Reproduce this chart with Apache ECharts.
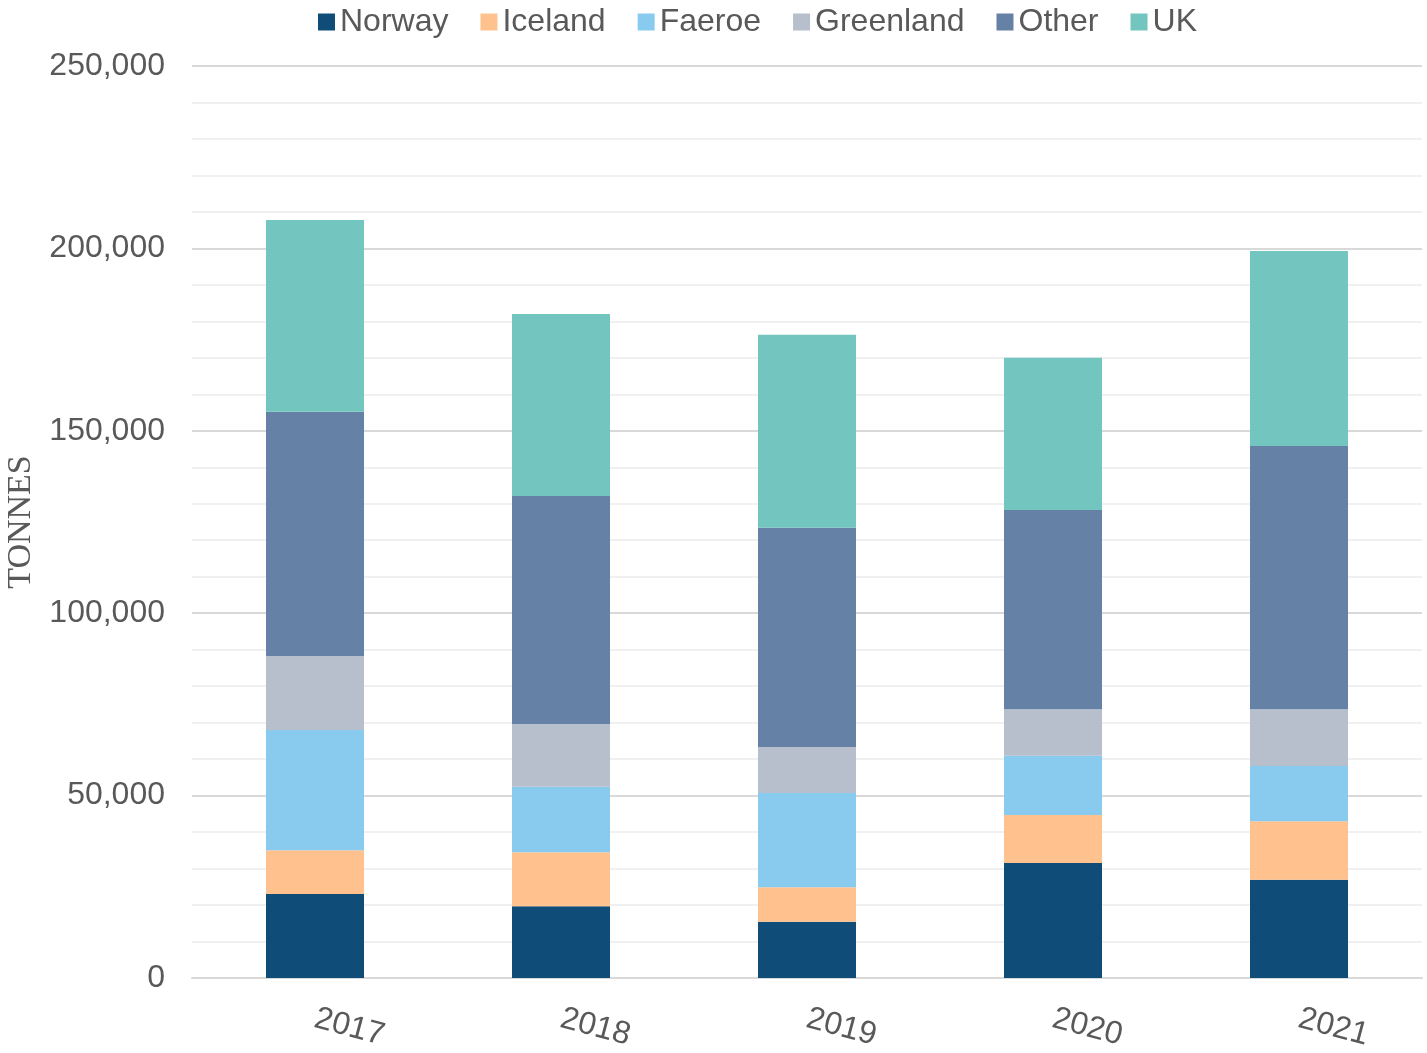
<!DOCTYPE html>
<html><head><meta charset="utf-8">
<script src="https://cdn.jsdelivr.net/npm/echarts@6/dist/echarts.min.js"></script>
<style>html,body{margin:0;padding:0;background:#fff}#c{width:1427px;height:1053px}</style>
</head><body><div id="c"></div>
<script>
const years = ['2017','2018','2019','2020','2021'];
const norway    = [23000, 19700, 15400, 31500, 26900];
const iceland   = [12000, 14800,  9500, 13200, 16100];
const faeroe    = [33000, 17900, 25800, 16200, 15100];
const greenland = [20300, 17200, 12600, 12800, 15600];
const other     = [66900, 62500, 60100, 54600, 72100];
const uk        = [52600, 49900, 52900, 41700, 53500];

const seriesDefs = [
  ['Norway', norway, '#0f4c78'],
  ['Iceland', iceland, '#ffc28f'],
  ['Faeroe', faeroe, '#89caef'],
  ['Greenland', greenland, '#b6bfcb'],
  ['Other', other, '#6581a5'],
  ['UK', uk, '#72c6bf']
];
const txt = '#595959';
const chart = echarts.init(document.getElementById('c'));
chart.setOption({
  animation: false,
  legend: {
    top: 1, left: 313,
    itemWidth: 17, itemHeight: 17, itemGap: 32,
    icon: 'rect',
    textStyle: {fontFamily: 'Liberation Sans', fontSize: 32, color: txt}
  },
  grid: {left: 192, right: 5, top: 66, bottom: 75, containLabel: false, outerBoundsMode: 'none'},
  xAxis: {
    type: 'category', data: years,
    axisLine: {lineStyle: {color: '#d9d9d9', width: 2}},
    axisTick: {show: false},
    axisLabel: {rotate: -15, margin: 40, fontFamily: 'Liberation Sans', fontSize: 32, color: txt}
  },
  yAxis: {
    type: 'value', min: 0, max: 250000, interval: 50000,
    name: 'TONNES', nameLocation: 'middle', nameGap: 149,
    nameTextStyle: {fontFamily: 'Liberation Serif', fontSize: 34, color: txt},
    axisLine: {show: false}, axisTick: {show: false},
    axisLabel: {margin: 27, fontFamily: 'Liberation Sans', fontSize: 32, color: txt,
      formatter: v => v.toLocaleString('en-US')},
    splitLine: {lineStyle: {color: '#d9d9d9', width: 2}},
    minorTick: {show: false, splitNumber: 5},
    minorSplitLine: {show: true, lineStyle: {color: '#f0f0f0', width: 2}}
  },
  series: seriesDefs.map(([n, d, c]) => ({
    name: n, type: 'bar', stack: 'total', data: d, barWidth: 98,
    itemStyle: {color: c}
  }))
});
</script></body></html>
